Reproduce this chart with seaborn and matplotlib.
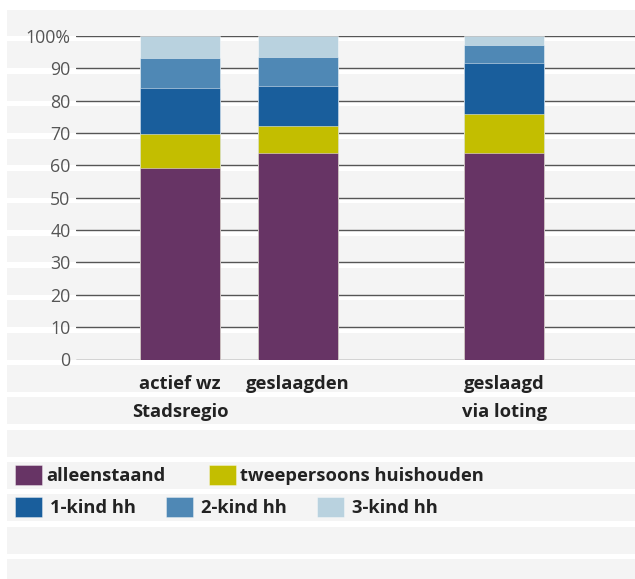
import pandas as pd
import numpy as np
import matplotlib
matplotlib.use("Agg")
import matplotlib.pyplot as plt
import matplotlib.transforms as mtransforms
from matplotlib.patches import Rectangle, Patch
import seaborn as sns

# data (percent per household type)
groups = ["actief wz\nStadsregio", "geslaagden", "geslaagd\nvia loting"]
categories = ["alleenstaand", "tweepersoons huishouden", "1-kind hh", "2-kind hh", "3-kind hh"]
alleenstaand = [59.3, 63.8, 63.8]
tweepersoons = [10.4, 8.3, 12.0]
kind1 = [14.1, 12.4, 15.9]
kind2 = [9.3, 9.0, 5.5]
kind3 = [6.9, 6.5, 2.8]
ytick_values = [0, 10, 20, 30, 40, 50, 60, 70, 80, 90, 100]
ytick_labels = ["0", "10", "20", "30", "40", "50", "60", "70", "80", "90", "100%"]

# styling / layout
colors = ["#673465", "#c3be00", "#195e9c", "#4f88b5", "#b9d2df"]
bar_pos = [0, 1, 2.75]
stripe_col = "#f4f4f4"
grid_col = "#555555"
text_col = "#222222"

sns.set_theme(style="white")
plt.rcParams["font.family"] = ["Open Sans", "DejaVu Sans"]

# long table with cumulative tops for stacking
values = np.array([alleenstaand, tweepersoons, kind1, kind2, kind3])
tops = values.cumsum(axis=0)
rows = []
for i, cat in enumerate(categories):
    for j, g in enumerate(groups):
        rows.append({"cat": cat, "group": g, "pos": bar_pos[j], "top": tops[i, j]})
df = pd.DataFrame(rows)

W, H = 635, 579
fig = plt.figure(figsize=(W / 100, H / 100), dpi=100)
ax = fig.add_axes([76 / W, (H - 359.5) / H, 1 - 76 / W, 323.5 / H])
ax.patch.set_alpha(0)

# tallest first so the lower segments sit on top
for cat, col in reversed(list(zip(categories, colors))):
    sns.barplot(data=df[df["cat"] == cat], x="pos", y="top", color=col,
                native_scale=True, width=0.678, saturation=1, ax=ax,
                edgecolor=(1, 1, 1, 0.55), linewidth=0.6, zorder=2)

ax.set_ylim(0, 100)
ax.set_xlim(-0.881, 3.856)
ax.set_yticks(ytick_values)
ax.set_yticklabels(ytick_labels, color="#555555", fontsize=12.8)
ax.set_xticks(bar_pos)
ax.set_xticklabels(groups, color=text_col, fontsize=13.2, fontweight="bold",
                   linespacing=1.75, va="top")
ax.tick_params(axis="y", length=0, pad=4)
ax.tick_params(axis="x", length=0, pad=11)
ax.set_xlabel("")
ax.set_ylabel("")
ax.yaxis.grid(True, color=grid_col, linewidth=1)
ax.set_axisbelow(True)
sns.despine(ax=ax, left=True, bottom=True)

# background bands, one per 10% step, continued below the axes
trans = mtransforms.blended_transform_factory(fig.transFigure, ax.transData)
for k in range(-7, 11):
    lo = 10 * k
    hi = 10 * (k + 1) - 1.7 if k < 10 else 108
    fig.add_artist(Rectangle((7 / W, lo), 1 - 7 / W, hi - lo, transform=trans,
                             facecolor=stripe_col, edgecolor="none", zorder=-1))

# legend in two rows
handles = [Patch(facecolor=c, edgecolor=(1, 1, 1, 0.5), linewidth=0.5) for c in colors]
leg_kw = dict(frameon=False, loc="upper left", borderpad=0, borderaxespad=0,
              handlelength=1.48, handleheight=1.26,
              prop={"weight": "bold", "size": 13.2})
leg1 = fig.legend(handles[:2], categories[:2], ncol=2, bbox_to_anchor=(15 / W, 1 - 465 / H),
                  handletextpad=0.22, columnspacing=2.35, **leg_kw)
leg2 = fig.legend(handles[2:], categories[2:], ncol=3, bbox_to_anchor=(15 / W, 1 - 497 / H),
                  handletextpad=0.44, columnspacing=1.64, **leg_kw)
for leg in (leg1, leg2):
    for t in leg.get_texts():
        t.set_color(text_col)

fig.savefig("out.png", dpi=100)
